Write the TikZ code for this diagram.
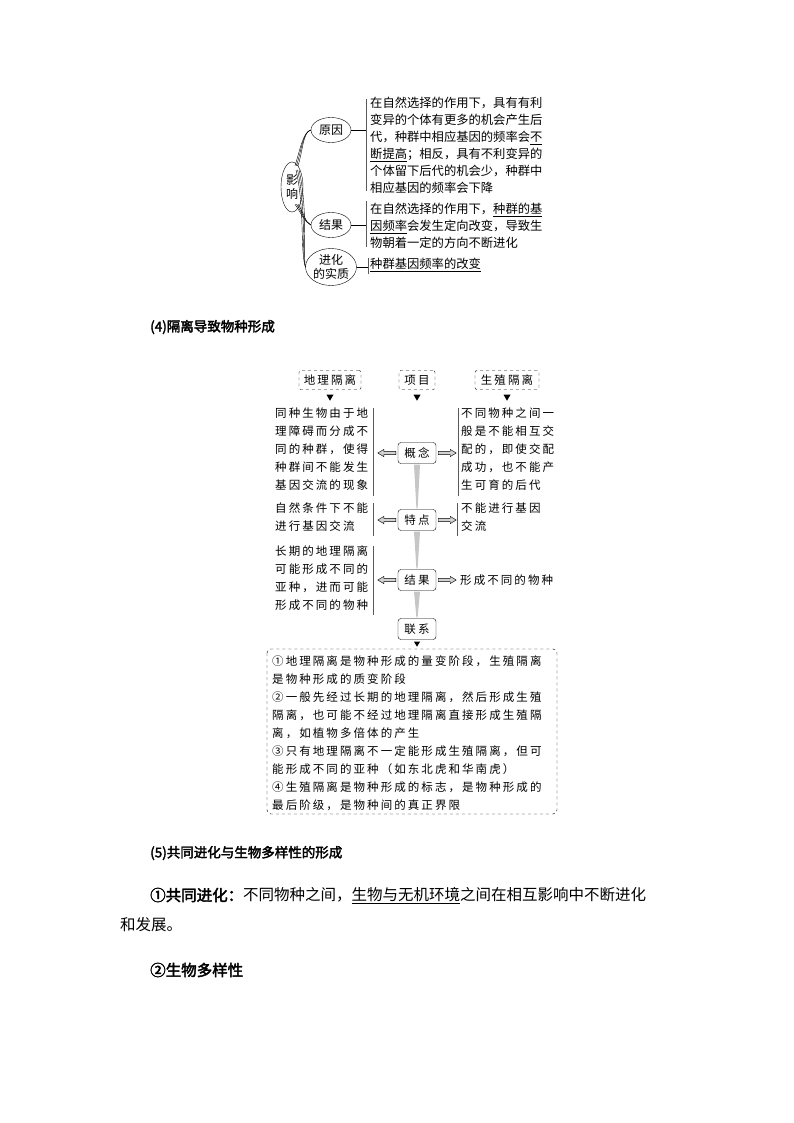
\documentclass[tikz,border=0pt]{standalone}
\usepackage{fontspec}
\setmainfont{Noto Sans CJK SC}
\newfontfamily\cjkb[FakeBold=2.5]{Noto Sans CJK SC}
\newfontfamily\cjks[LetterSpace=18]{Noto Sans CJK SC}
\usetikzlibrary{calc,shapes.geometric}
\begin{document}
\begin{tikzpicture}[x=1pt,y=-1pt,
  ell/.style={draw,ellipse,inner sep=0pt,font=\fontsize{12}{14}\selectfont,align=center},
  txt/.style={anchor=north west,inner sep=0pt,align=left,font=\fontsize{12.3}{17}\selectfont},
  stxt/.style={anchor=north west,inner sep=0pt,align=left,font=\cjks\fontsize{11.5}{18}\selectfont},
  dbox/.style={draw,dashed,rounded corners=2pt,minimum height=19pt,inner sep=2pt,font=\cjks\fontsize{11.5}{14}\selectfont},
  rbox/.style={draw,rounded corners=3pt,minimum height=21pt,minimum width=38pt,inner sep=2pt,font=\cjks\fontsize{11.5}{14}\selectfont},
  brk/.style={line width=0.8pt,gray!70!black},
  harrow/.pic={\filldraw[fill=gray!35,draw=black,line width=0.4pt] (0,-1.6)--(-12,-1.6)--(-12,-3.6)--(-18,0)--(-12,3.6)--(-12,1.6)--(0,1.6)--cycle;},
  wedge/.style={fill=gray!45,draw=none}]
\useasboundingbox (0,0) rectangle (794,1123);
% ---------- top part
\node[ell,minimum width=22pt,minimum height=50pt] (yx) at (292,187) {影\\响};
\node[ell,minimum width=40pt,minimum height=25pt] (yy) at (331,130) {原因};
\node[ell,minimum width=40pt,minimum height=25pt] (jg) at (331,225) {结果};
\node[ell,minimum width=46pt,minimum height=37pt] (sz) at (331,267) {进化\\的实质};
\foreach \d in {0,1.5,3}{
  \draw[line width=0.4pt] ($(yx.north)+(3+\d,4)$) .. controls (300+\d,150) and (303,132) .. (yy.west);
  \draw[line width=0.4pt] ($(yx.south)+(3+\d,-8)$) .. controls (302+\d,215) and (305,222) .. (jg.west);
  \draw[line width=0.4pt] ($(yx.north)+(4+\d,8)$) .. controls (305+\d,210) and (300+\d,250) .. (sz.west);
}
\coordinate (b1t) at (366,99); \coordinate (b1b) at (366,191);
\coordinate (b2t) at (366,201); \coordinate (b2b) at (366,247);
\coordinate (b3t) at (368,258); \coordinate (b3b) at (368,274);
\draw[brk] (b1t)--(b1b); \draw[brk] (b2t)--(b2b); \draw[brk] (b3t)--(b3b);
\draw (yy.east) -- (yy.east -| b1t);
\draw (jg.east) -- (jg.east -| b2t);
\draw (sz.east) -- (sz.east -| b3t);
\node[txt] (t1) at (370,97) {在自然选择的作用下，具有有利\\变异的个体有更多的机会产生后\\代，种群中相应基因的频率会\underline{不}\\\underline{断提高}；相反，具有不利变异的\\个体留下后代的机会少，种群中\\相应基因的频率会下降};
\node[txt] (t2) at (370,203) {在自然选择的作用下，\underline{种群的基}\\\underline{因频率}会发生定向改变，导致生\\物朝着一定的方向不断进化};
\node[txt] (t3) at (370,258) {\underline{种群基因频率的改变}};
% ---------- heading 4
\node[anchor=west,inner sep=0pt,font=\cjkb\fontsize{13.5}{16}\selectfont] (h4) at (150,327) {(4)隔离导致物种形成};
% ---------- lower diagram
\node[dbox,minimum width=62pt] (dl) at (330,380) {地理隔离};
\node[dbox,minimum width=36pt] (xm) at (417,380) {项目};
\node[dbox,minimum width=64pt] (sz2) at (507,380) {生殖隔离};
\foreach \n in {dl,xm,sz2}{
  \fill ($(\n.south)+(-3.5,5)$) -- ++(7,0) -- ++(-3.5,6) -- cycle;
}
\node[rbox] (gn) at (417,453) {概念};
\node[rbox] (td) at (417,520) {特点};
\node[rbox] (jg2) at (417,580) {结果};
\node[rbox] (lx) at (417,629) {联系};
\fill[wedge] ($(gn.south)+(-3,1)$) -- ($(gn.south)+(3,1)$) -- ($(td.north)+(0.6,-1)$) -- ($(td.north)+(-0.6,-1)$) -- cycle;
\fill[wedge] ($(td.south)+(-3,1)$) -- ($(td.south)+(3,1)$) -- ($(jg2.north)+(0.6,-1)$) -- ($(jg2.north)+(-0.6,-1)$) -- cycle;
\fill[wedge] ($(jg2.south)+(-3,1)$) -- ($(jg2.south)+(3,1)$) -- ($(lx.north)+(0.6,-1)$) -- ($(lx.north)+(-0.6,-1)$) -- cycle;
% brackets
\draw[brk] (373,408)--(373,496); \draw[brk] (458,408)--(458,496);
\draw[brk] (373,503)--(373,536); \draw[brk] (457,503)--(457,536);
\draw[brk] (373,546)--(373,615);
\node[stxt] (l1) at (275,408) {同种生物由于地\\理障碍而分成不\\同的种群，使得\\种群间不能发生\\基因交流的现象};
\node[stxt] (r1) at (461,408) {不同物种之间一\\般是不能相互交\\配的，即使交配\\成功，也不能产\\生可育的后代};
\node[stxt] (l2) at (275,503) {自然条件下不能\\进行基因交流};
\node[stxt] (r2) at (461,503) {不能进行基因\\交流};
\node[stxt] (l3) at (275,546) {长期的地理隔离\\可能形成不同的\\亚种，进而可能\\形成不同的物种};
\node[stxt,anchor=west] (r3) at (460,580) {形成不同的物种};
% hollow arrows
\pic at ($(gn.west)+(-2,0)$) {harrow};
\pic[xscale=-1] at ($(gn.east)+(2,0)$) {harrow};
\pic at ($(td.west)+(-2,0)$) {harrow};
\pic[xscale=-1] at ($(td.east)+(2,0)$) {harrow};
\pic at ($(jg2.west)+(-2,0)$) {harrow};
\pic[xscale=-1] at ($(jg2.east)+(2,0)$) {harrow};
% bottom box
\draw[dashed,rounded corners=4pt] (267,649) rectangle (557,814);
\coordinate (boxtop) at (417,649);
\fill ($(lx.south)+(-3,2)$) -- ++(6,0) -- ++(-3,5) -- cycle;
\node[stxt,font=\cjks\fontsize{11.5}{17.9}\selectfont] (bt) at (272,656) {①地理隔离是物种形成的量变阶段，生殖隔离\\是物种形成的质变阶段\\②一般先经过长期的地理隔离，然后形成生殖\\隔离，也可能不经过地理隔离直接形成生殖隔\\离，如植物多倍体的产生\\③只有地理隔离不一定能形成生殖隔离，但可\\能形成不同的亚种（如东北虎和华南虎）\\④生殖隔离是物种形成的标志，是物种形成的\\最后阶级，是物种间的真正界限};
% ---------- section 5
\node[anchor=west,inner sep=0pt,font=\cjkb\fontsize{13.5}{16}\selectfont] (h5) at (150,853) {(5)共同进化与生物多样性的形成};
\node[anchor=west,inner sep=0pt,font=\fontsize{15.5}{18}\selectfont] (p1) at (150,896) {{\cjkb ①共同进化：}不同物种之间，\underline{生物与无机环境}之间在相互影响中不断进化};
\node[anchor=west,inner sep=0pt,font=\fontsize{15.5}{18}\selectfont] (p2) at (120,925) {和发展。};
\node[anchor=west,inner sep=0pt,font=\cjkb\fontsize{15.5}{18}\selectfont] (p3) at (150,970) {②生物多样性};
\end{tikzpicture}
\end{document}
